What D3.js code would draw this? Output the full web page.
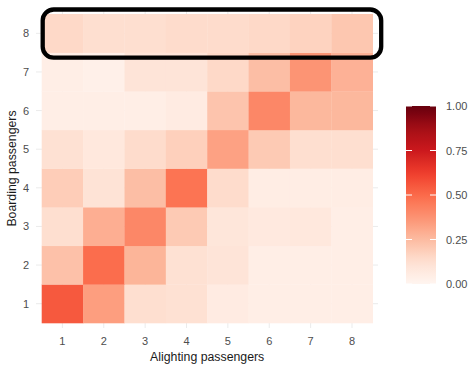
<!DOCTYPE html>
<html>
<head>
<meta charset="utf-8">
<script src="https://cdn.jsdelivr.net/npm/d3@7"></script>
<style>
  body { margin: 0; background: #fff; }
  text { font-family: "Liberation Sans", Arial, sans-serif; }
</style>
</head>
<body>
<svg id="chart" width="471" height="366"></svg>
<script>
// alighting (columns) and boarding (rows) passenger counts
const alighting = [1, 2, 3, 4, 5, 6, 7, 8];
const boarding = [1, 2, 3, 4, 5, 6, 7, 8];
const legendTicks = [0, 0.25, 0.5, 0.75, 1];

// share per cell, one array per boarding row, columns = alighting 1..8
const board1 = [0.55, 0.34, 0.13, 0.12, 0.06, 0.04, 0.04, 0.04];
const board2 = [0.23, 0.49, 0.27, 0.12, 0.10, 0.04, 0.04, 0.04];
const board3 = [0.13, 0.29, 0.41, 0.20, 0.09, 0.07, 0.08, 0.04];
const board4 = [0.19, 0.11, 0.24, 0.47, 0.14, 0.05, 0.05, 0.05];
const board5 = [0.12, 0.08, 0.14, 0.18, 0.33, 0.20, 0.13, 0.13];
const board6 = [0.04, 0.04, 0.04, 0.06, 0.22, 0.41, 0.26, 0.26];
const board7 = [0.04, 0.03, 0.10, 0.10, 0.15, 0.24, 0.37, 0.28];
const board8 = [0.15, 0.13, 0.13, 0.14, 0.14, 0.15, 0.17, 0.21];
const rows = [board1, board2, board3, board4, board5, board6, board7, board8];

const svg = d3.select('#chart');

const x = d3.scaleBand().domain(alighting).range([41.7, 372.7]).padding(0);
const y = d3.scaleBand().domain(boarding.slice().reverse()).range([14, 323]).padding(0);

const reds = ['#fff5f0', '#fee0d2', '#fcbba1', '#fc9272', '#fb6a4a', '#ef3b2c', '#cb181d', '#a50f15', '#67000d'];
const color = d3.scaleLinear()
  .domain(d3.range(reds.length).map(i => i / (reds.length - 1)))
  .range(reds)
  .interpolate(d3.interpolateLab);

const cells = [];
rows.forEach((vals, r) => {
  vals.forEach((v, c) => {
    cells.push({ board: boarding[r], alight: alighting[c], value: v });
  });
});

// grid lines (theme_minimal)
const grid = svg.append('g').attr('stroke', '#ebebeb').attr('stroke-width', 1);
grid.selectAll('line.v').data(alighting).enter().append('line')
  .attr('x1', d => x(d) + x.bandwidth() / 2)
  .attr('x2', d => x(d) + x.bandwidth() / 2)
  .attr('y1', 9).attr('y2', 328);
grid.selectAll('line.h').data(boarding).enter().append('line')
  .attr('y1', d => y(d) + y.bandwidth() / 2)
  .attr('y2', d => y(d) + y.bandwidth() / 2)
  .attr('x1', 36).attr('x2', 378);

svg.append('g').selectAll('rect').data(cells).enter().append('rect')
  .attr('x', d => x(d.alight))
  .attr('y', d => y(d.board))
  .attr('width', x.bandwidth() + 0.3)
  .attr('height', y.bandwidth() + 0.3)
  .attr('fill', d => color(d.value));

// tick labels
svg.append('g').selectAll('text').data(alighting).enter().append('text')
  .attr('x', d => x(d) + x.bandwidth() / 2)
  .attr('y', 345)
  .attr('text-anchor', 'middle')
  .attr('font-size', 11)
  .attr('fill', '#4d4d4d')
  .text(d => d);

svg.append('g').selectAll('text').data(boarding).enter().append('text')
  .attr('x', 29)
  .attr('y', d => y(d) + y.bandwidth() / 2 + 4)
  .attr('text-anchor', 'end')
  .attr('font-size', 11)
  .attr('fill', '#4d4d4d')
  .text(d => d);

// axis titles
svg.append('text')
  .attr('x', (41.7 + 372.7) / 2)
  .attr('y', 361)
  .attr('text-anchor', 'middle')
  .attr('font-size', 12.3)
  .attr('fill', '#1a1a1a')
  .text('Alighting passengers');

svg.append('text')
  .attr('transform', `translate(16, ${(14 + 323) / 2}) rotate(-90)`)
  .attr('text-anchor', 'middle')
  .attr('font-size', 12.3)
  .attr('fill', '#1a1a1a')
  .text('Boarding passengers');

// highlight box around boarding = 8
svg.append('rect')
  .attr('x', x(1) + 1)
  .attr('y', y(8) - 4.5)
  .attr('width', x(8) + x.bandwidth() + 8.5 - x(1) - 1)
  .attr('height', y.bandwidth() + 5 + 4.5)
  .attr('rx', 11).attr('ry', 11)
  .attr('fill', 'none')
  .attr('stroke', '#000')
  .attr('stroke-width', 4.3);

// colour bar legend
const ly = d3.scaleLinear().domain([0, 1]).range([284, 106]);
const defs = svg.append('defs');
const grad = defs.append('linearGradient').attr('id', 'redsGrad')
  .attr('x1', 0).attr('y1', 1).attr('x2', 0).attr('y2', 0);
grad.selectAll('stop').data(d3.range(0, 1.0001, 0.05)).enter().append('stop')
  .attr('offset', d => d)
  .attr('stop-color', d => color(d));

svg.append('rect')
  .attr('x', 406).attr('y', ly(1))
  .attr('width', 30).attr('height', ly(0) - ly(1))
  .attr('fill', 'url(#redsGrad)');

const lt = svg.append('g');
lt.selectAll('line.l').data(legendTicks).enter().append('line')
  .attr('x1', 406).attr('x2', 412)
  .attr('y1', d => ly(d)).attr('y2', d => ly(d))
  .attr('stroke', '#fff').attr('stroke-width', 1);
lt.selectAll('line.r').data(legendTicks).enter().append('line')
  .attr('x1', 430).attr('x2', 436)
  .attr('y1', d => ly(d)).attr('y2', d => ly(d))
  .attr('stroke', '#fff').attr('stroke-width', 1);
lt.selectAll('text').data(legendTicks).enter().append('text')
  .attr('x', 446)
  .attr('y', d => ly(d) + 4)
  .attr('font-size', 11)
  .attr('fill', '#4d4d4d')
  .text(d => d.toFixed(2));
</script>
</body>
</html>
